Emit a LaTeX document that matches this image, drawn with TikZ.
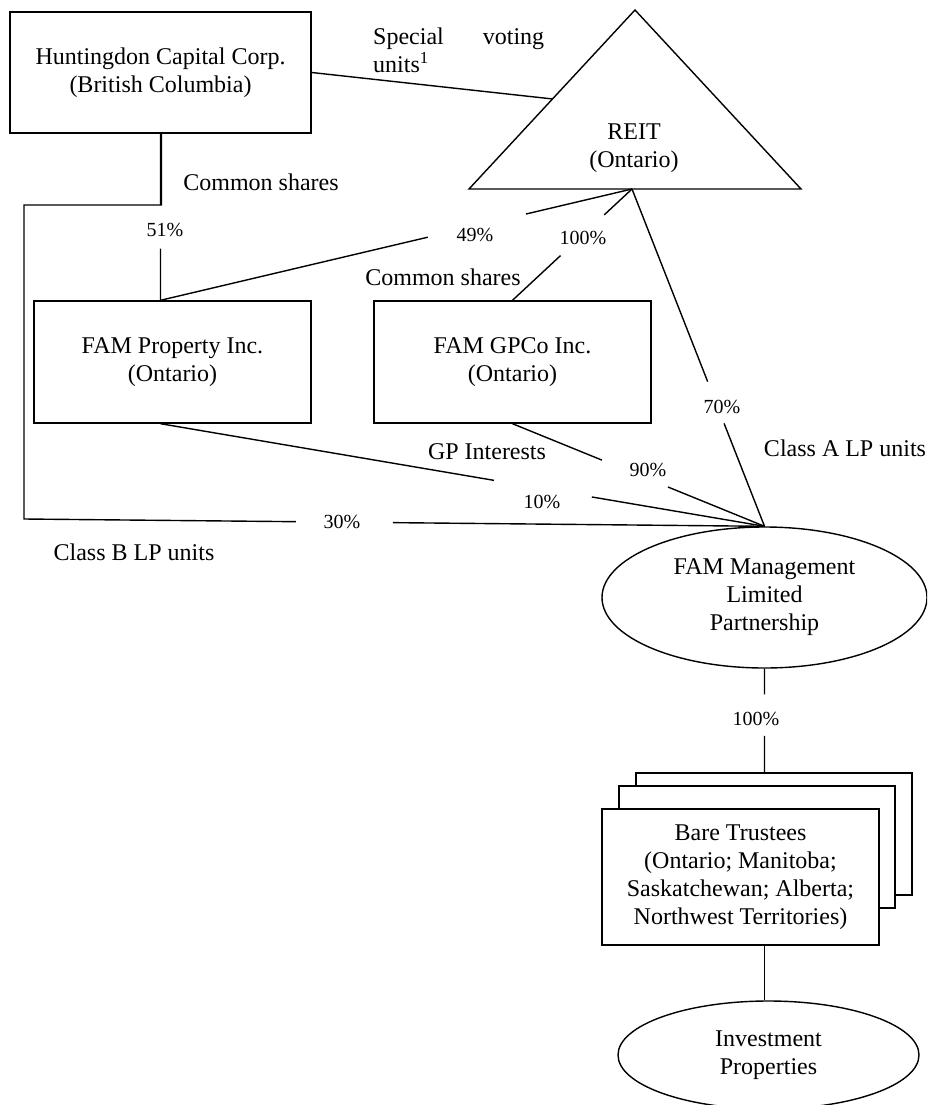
\documentclass[tikz,border=0pt]{standalone}
\usepackage{fontspec}
\setmainfont{Liberation Serif}
\usetikzlibrary{shapes.geometric,calc}
\begin{document}
\begin{tikzpicture}[x=1pt,y=-1pt,
  every node/.style={font=\fontsize{24}{28}\selectfont, inner sep=0pt},
  box/.style={draw, rectangle, line width=1.4pt, fill=white, align=center},
  oval/.style={draw, ellipse, line width=1.4pt, fill=white, align=center},
  pct/.style={font=\fontsize{20}{24}\selectfont},
  conn/.style={line width=1.4pt}]
\useasboundingbox (0,0) rectangle (927,1105);
\clip (0,0) rectangle (927,1105);

% entities
\node[box, minimum width=301pt, minimum height=121pt] (hcc) at (160.5,72.5) {Huntingdon Capital Corp.\\(British Columbia)};
\coordinate (reitTop) at (635,10);
\coordinate (reitL) at (469,189);
\coordinate (reitR) at (801,189);
\draw[conn, line join=miter] (reitTop) -- (reitR) -- (reitL) -- cycle;
\node[align=center] (reit) at (634,148) {REIT\\(Ontario)};
\coordinate (reitB) at (632,189);
\coordinate (reitHit) at ($(reitL)!0.503!(reitTop)$);

\node[box, minimum width=277pt, minimum height=122pt] (fp) at (172.5,362) {FAM Property Inc.\\(Ontario)};
\node[box, minimum width=277pt, minimum height=122pt] (gp) at (512.5,362) {FAM GPCo Inc.\\(Ontario)};
\node[oval, minimum width=325pt, minimum height=141pt] (mgmt) at (764.5,597.5) {FAM Management\\Limited\\Partnership};

\node[box, minimum width=276pt, minimum height=122pt] (bt3) at (774,834) {};
\node[box, minimum width=276pt, minimum height=122pt] (bt2) at (757,847) {};
\node[box, minimum width=277pt, minimum height=136pt] (bt) at (740.5,877) {Bare Trustees\\(Ontario; Manitoba;\\Saskatchewan; Alberta;\\Northwest Territories)};
\node[oval, minimum width=301pt, minimum height=108pt] (inv) at (768.5,1055) {Investment\\Properties};

% connectors
\coordinate (fpJ) at (hcc.south |- fp.north);
\coordinate (cbCorner) at (24,205);
\coordinate (cbTop) at (hcc.south |- cbCorner);
\coordinate (cbBot) at (24,519);
\coordinate (fpS) at (fpJ |- fp.south);
\coordinate (bt3T) at (mgmt.south |- bt3.north);

\draw[conn] (hcc.east) -- (reitHit);
\draw[conn] (hcc.south) -- ($(hcc.south)!0.429!(fpJ)$) ($(hcc.south)!0.69!(fpJ)$) -- (fpJ);
\draw[conn] ([xshift=1pt]hcc.south) -- ([xshift=1pt]cbTop) -- (cbCorner) -- (cbBot)
  -- ($(cbBot)!0.367!(mgmt.north)$) ($(cbBot)!0.498!(mgmt.north)$) -- (mgmt.north);
\draw[conn] (fpJ) -- ($(fpJ)!0.567!(reitB)$) ($(fpJ)!0.775!(reitB)$) -- (reitB);
\draw[conn] (gp.north) -- ($(gp.north)!0.402!(reitB)$) ($(gp.north)!0.768!(reitB)$) -- (reitB);
\draw[conn] (reitB) -- ($(reitB)!0.571!(mgmt.north)$) ($(reitB)!0.695!(mgmt.north)$) -- (mgmt.north);
\draw[conn] (fpS) -- ($(fpS)!0.552!(mgmt.north)$) ($(fpS)!0.714!(mgmt.north)$) -- (mgmt.north);
\draw[conn] (gp.south) -- ($(gp.south)!0.355!(mgmt.north)$) ($(gp.south)!0.617!(mgmt.north)$) -- (mgmt.north);
\draw[conn] (mgmt.south) -- ($(mgmt.south)!0.248!(bt3T)$) ($(mgmt.south)!0.648!(bt3T)$) -- (bt3T);
\draw[conn] (mgmt.south |- bt.south) -- (mgmt.south |- inv.north);

% labels
\node[anchor=north west, align=left] (lSV) at (373,28) {\hbox to 171pt{Special\hfill voting}\\units\textsuperscript{1}};
\node (lCS1) at (261,182) {Common shares};
\node[pct] (l51) at (165,230) {51\%};
\node[pct] (l49) at (475,235) {49\%};
\node[pct] (l100a) at (583,238) {100\%};
\node (lCS2) at (443,277) {Common shares};
\node[pct] (l70) at (722,407) {70\%};
\node (lCA) at (845,448) {Class A LP units};
\node (lGP) at (487,452) {GP Interests};
\node[pct] (l90) at (648,470) {90\%};
\node[pct] (l10) at (542,502) {10\%};
\node[pct] (l30) at (342,522) {30\%};
\node (lCB) at (134,552) {Class B LP units};
\node[pct] (l100b) at (756,719) {100\%};
\end{tikzpicture}
\end{document}
